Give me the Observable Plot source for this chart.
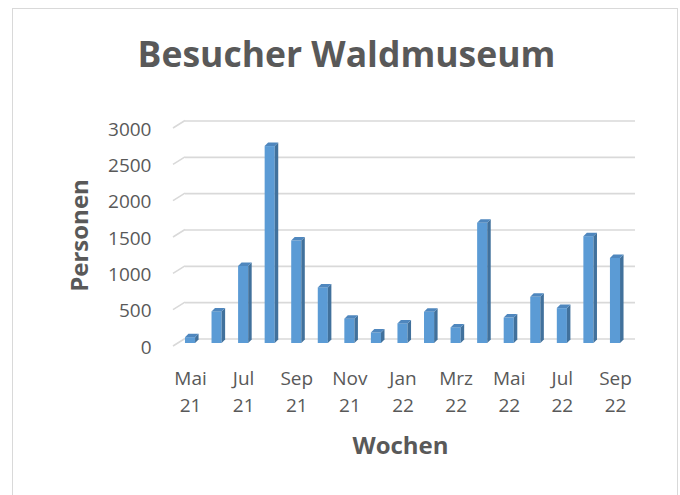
<!DOCTYPE html>
<html>
<head>
<meta charset="utf-8">
<script src="https://cdn.jsdelivr.net/npm/d3@7"></script>
<script src="https://cdn.jsdelivr.net/npm/@observablehq/plot@0.6"></script>
<style>
  html, body { margin: 0; padding: 0; background: #fff; }
  #wrap { position: relative; width: 680px; height: 495px; overflow: hidden; }
  #border { position: absolute; left: 12px; top: 8px; width: 666px; height: 520px; border: 1.5px solid #d9d9d9; box-sizing: border-box; }
  #chart { position: absolute; left: 0; top: 0; }
</style>
</head>
<body>
<div id="wrap"><div id="border"></div><div id="chart"></div></div>
<script>
const title = "Besucher Waldmuseum";
const yTitle = "Personen";
const xTitle = "Wochen";
const months = ["Mai 21","Jun 21","Jul 21","Aug 21","Sep 21","Okt 21","Nov 21","Dez 21","Jan 22","Feb 22","Mrz 22","Apr 22","Mai 22","Jun 22","Jul 22","Aug 22","Sep 22"];
const visitors = [80, 435, 1060, 2710, 1410, 765, 335, 145, 270, 430, 215, 1655, 350, 635, 480, 1470, 1170];
const yTicks = [0, 500, 1000, 1500, 2000, 2500, 3000];
const xTicks = ["Mai 21","Jul 21","Sep 21","Nov 21","Jan 22","Mrz 22","Mai 22","Jul 22","Sep 22"];

const data = months.map((m, i) => ({month: m, value: visitors[i]}));
const depth = 3.5;

const plot = Plot.plot({
  width: 680,
  height: 495,
  marginLeft: 185,
  marginRight: 45,
  marginTop: 125,
  marginBottom: 152,
  style: {fontFamily: "'Open Sans', sans-serif", color: "#595959", background: "transparent", overflow: "visible"},
  x: {domain: months, range: [168.5, 636.5], padding: 0.62, round: false, label: null},
  y: {domain: [0, 3000], range: [343, 125], label: null},
  marks: [
    Plot.gridY(yTicks, {stroke: "#d9d9d9", strokeOpacity: 1, strokeWidth: 1.6, dy: -4.5}),
    Plot.barY(data, {x: "month", y: "value", fill: "#5B9BD5"}),
    Plot.axisY(yTicks, {tickSize: 0, tickPadding: 34, fontSize: 19, dy: 4, tickFormat: d => String(d), label: null}),
    Plot.axisX(xTicks, {tickSize: 0, tickPadding: 22, fontSize: 19, lineHeight: 1.42, tickFormat: d => d.replace(" ", "\n"), label: null}),
    Plot.text([title], {frameAnchor: "top", dx: -64, dy: -69.5, fontSize: 35.5, fontWeight: "bold", lineAnchor: "middle"}),
    Plot.text([yTitle], {frameAnchor: "left", dx: -105, dy: 1, rotate: -90, textAnchor: "middle", fontSize: 24, fontWeight: "bold", lineAnchor: "middle"}),
    Plot.text([xTitle], {frameAnchor: "bottom", dx: -10, dy: 103, fontSize: 24, fontWeight: "bold", lineAnchor: "middle"})
  ]
});

const svg = d3.select(plot);
// 3D side and top faces for each bar
svg.selectAll('g[aria-label="bar"] rect').each(function() {
  const r = d3.select(this);
  const x = +r.attr("x"), y = +r.attr("y"), w = +r.attr("width"), h = +r.attr("height");
  const g = d3.select(this.parentNode);
  g.append("path")
    .attr("d", `M${x + w},${y}L${x + w + depth},${y - depth}L${x + w + depth},${y + h - depth}L${x + w},${y + h}Z`)
    .attr("fill", "#41719C");
  g.append("path")
    .attr("d", `M${x},${y}L${x + depth},${y - depth}L${x + w + depth},${y - depth}L${x + w},${y}Z`)
    .attr("fill", "#4F87BE");
});
// perspective floor segments at left of each gridline
const yScale = plot.scale("y");
const slants = svg.insert("g", 'g[aria-label="bar"]');
yTicks.forEach(v => {
  const yf = yScale.apply(v);
  slants.append("line")
    .attr("x1", 173).attr("y1", yf + 3)
    .attr("x2", 185).attr("y2", yf - 4.5)
    .attr("stroke", "#d9d9d9").attr("stroke-width", 1.6);
});

document.getElementById("chart").appendChild(plot);
</script>
</body>
</html>
